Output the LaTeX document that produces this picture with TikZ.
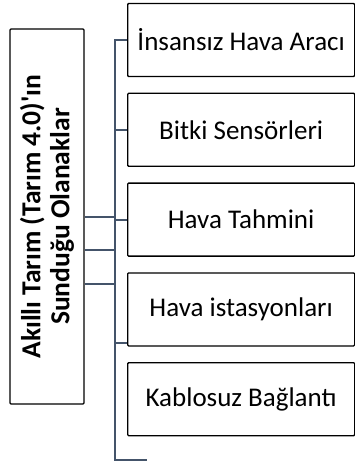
\documentclass[tikz,border=0pt]{standalone}
\usepackage{fontspec}
\setmainfont{Carlito}
\usetikzlibrary{positioning}
\definecolor{linegray}{HTML}{44546A}

\tikzset{
  itembox/.style={draw, line width=1.3pt, rounded corners=1pt, minimum width=227pt,
    minimum height=73pt, inner sep=0pt, font=\fontsize{27}{32}\selectfont},
  conn/.style={draw=linegray, line width=2pt}
}

\begin{document}
\begin{tikzpicture}[x=1pt,y=-1pt]
\useasboundingbox (0,0) rectangle (355,463);
% left box, text turned up
\node[draw, line width=1.3pt, rounded corners=1pt, rotate=90, minimum width=375pt, minimum height=74pt,
  inner sep=0pt, align=center, font=\bfseries\fontsize{27.5}{29}\selectfont] (main) at (47,216.5)
  {Akıllı Tarım (Tarım 4.0)\textquotesingle ın\\Sunduğu Olanaklar};
% right boxes
\node[itembox, anchor=west] (uav) at (127,40) {İnsansız Hava Aracı};
\node[itembox, below=15.5pt of uav] (sensor) {Bitki Sensörleri};
\node[itembox, below=15.5pt of sensor] (forecast) {Hava Tahmini};
\node[itembox, below=15.5pt of forecast] (station) {Hava istasyonları};
\node[itembox, below=15.5pt of station] (wireless) {Kablosuz Bağlantı};
\coordinate (bot) at (115,460);
\coordinate (tail) at (147,460);
% connectors
\draw[conn] (uav.west) -- (uav.west -| bot) -- (bot) -- (tail);
\draw[conn] (sensor.west) -- (sensor.west -| bot);
\draw[conn] (forecast.west) -- (forecast.west -| bot);
\draw[conn] ([yshift=4pt]station.south west) -- ([yshift=4pt]station.south west -| bot);
\foreach \dy in {0,-33.5,-67}
  \draw[conn] ([yshift=\dy pt]main.south) -- ([yshift=\dy pt]main.south -| bot);
\end{tikzpicture}
\end{document}
